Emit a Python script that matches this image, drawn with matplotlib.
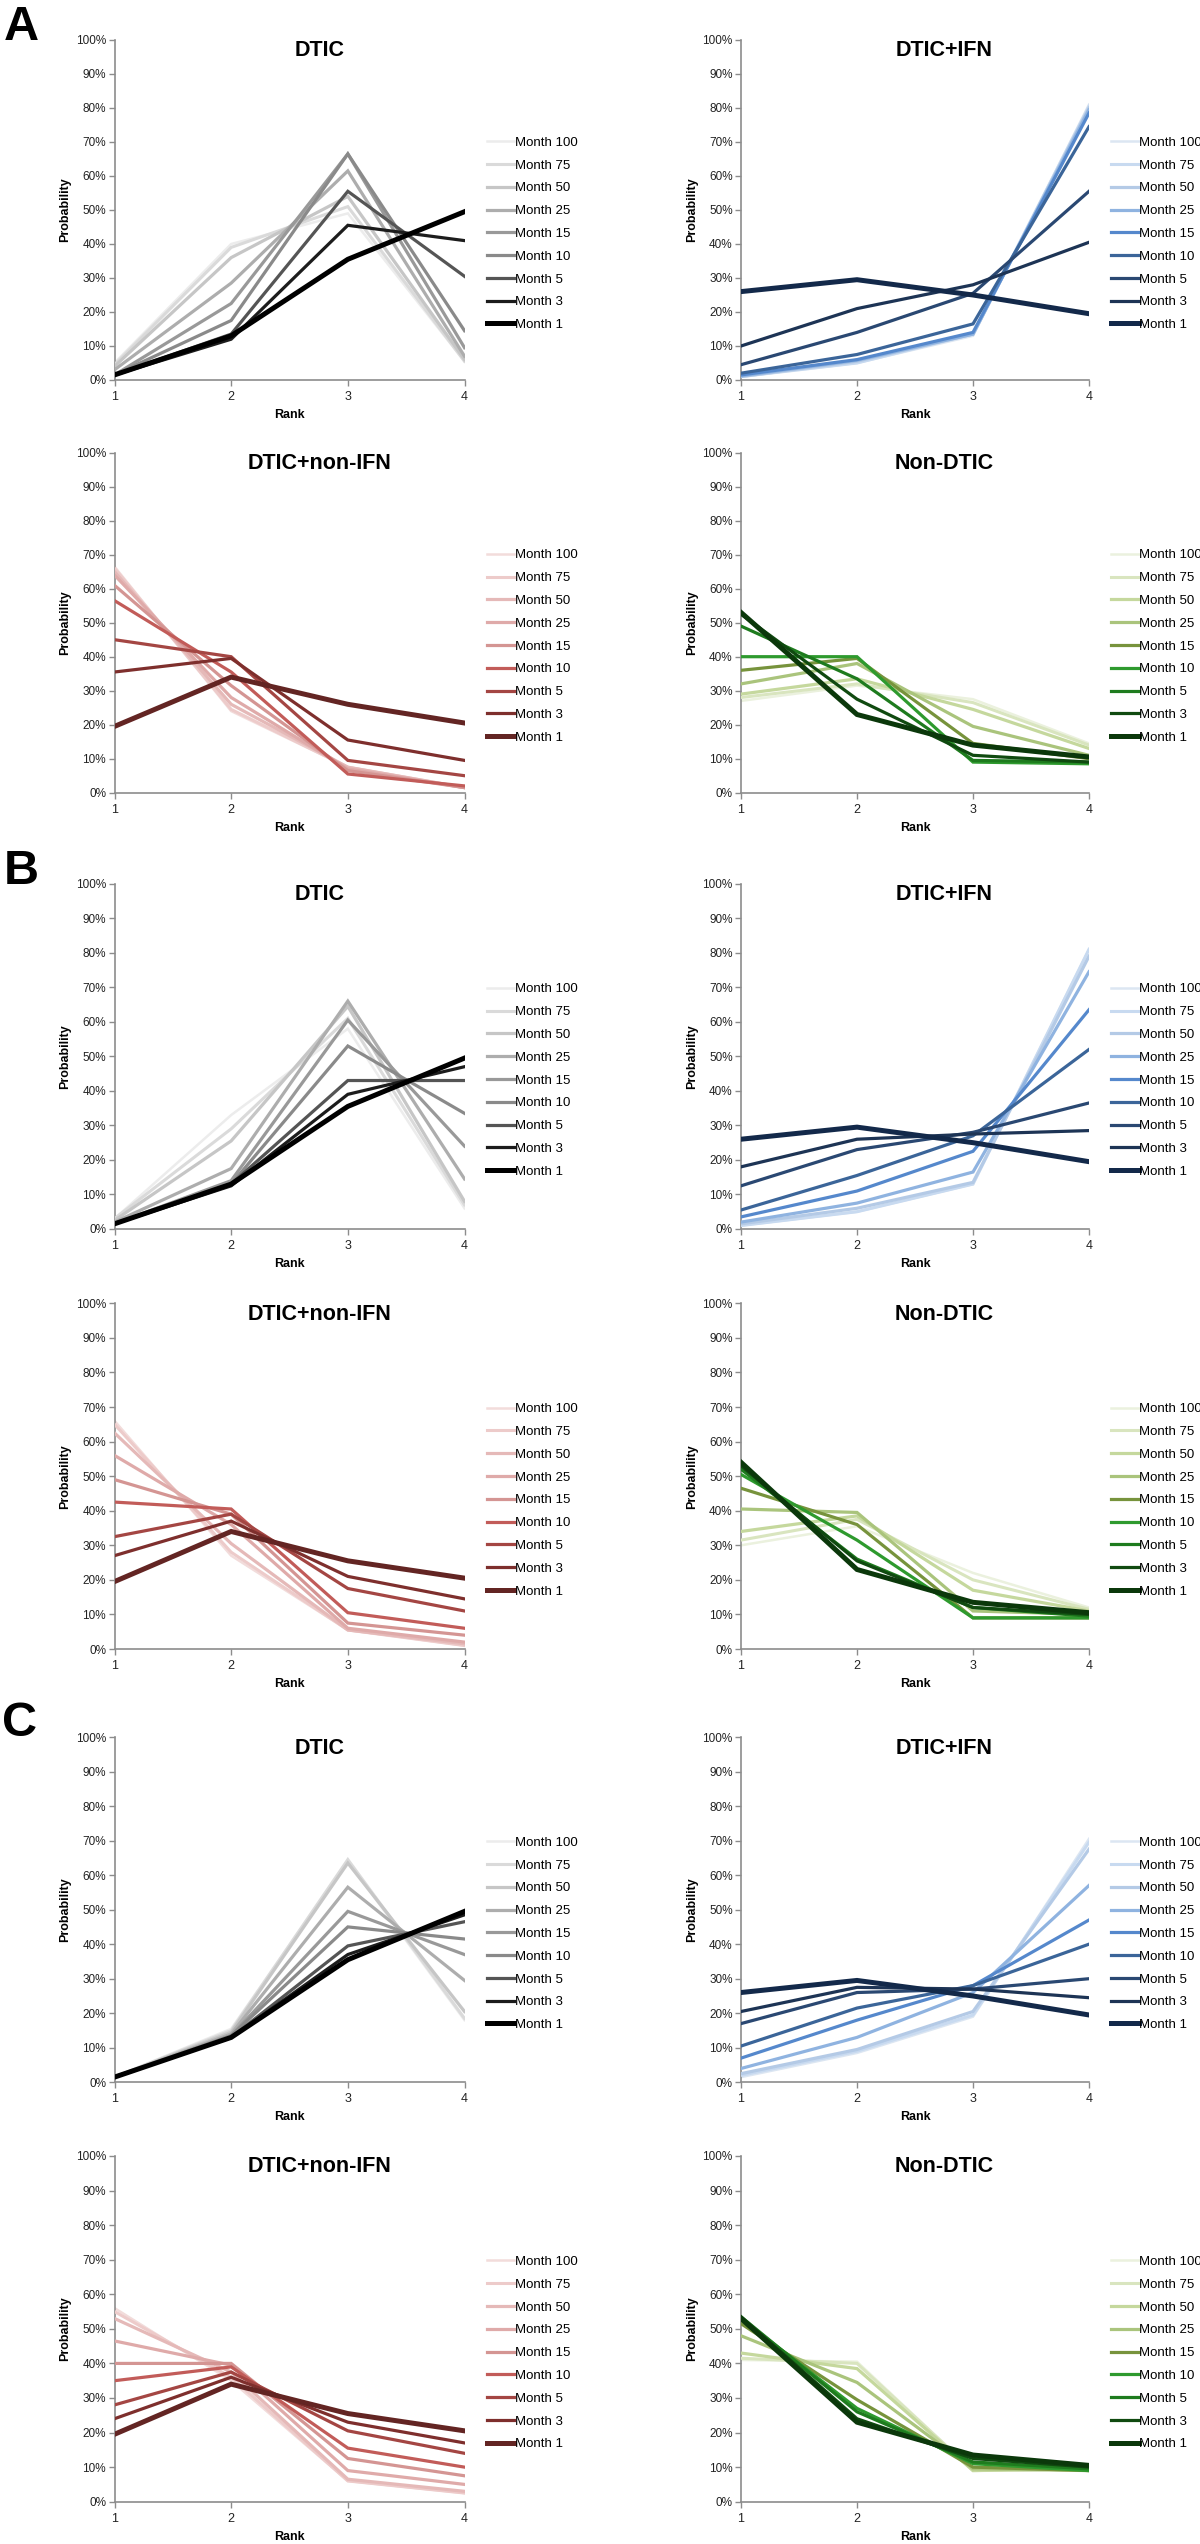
import matplotlib
matplotlib.use("Agg")
import matplotlib.pyplot as plt
from matplotlib.ticker import FixedLocator, FuncFormatter

plt.rcParams['font.family'] = ['Liberation Sans', 'DejaVu Sans']

# ---------------- data (probability in %, ranks 1..4) ----------------
ranks = [1, 2, 3, 4]
months = ["Month 100", "Month 75", "Month 50", "Month 25", "Month 15",
          "Month 10", "Month 5", "Month 3", "Month 1"]
titles = ["DTIC", "DTIC+IFN", "DTIC+non-IFN", "Non-DTIC"]
panel_letters = ["A", "B", "C"]

# rows follow `months` order
A_dtic = [[5, 40, 49, 5.5], [4.5, 39, 51, 5.5], [4, 36, 54, 6], [3, 28.5, 61.5, 7],
          [1.5, 22.5, 66.5, 9.5], [1.5, 17.5, 66.5, 14.5], [1.5, 13.5, 55.5, 30.5],
          [1.5, 12, 45.5, 41], [1.5, 13, 35.5, 49.5]]
A_ifn = [[1, 5, 13, 81], [1, 5, 13.5, 80.5], [1, 5.5, 13.5, 80], [1.2, 5.8, 13.5, 79.5],
         [1.5, 6, 14, 78.5], [2, 7.5, 16.5, 74.5], [4.5, 14, 25.5, 55.5],
         [10, 21, 28, 40.5], [26, 29.5, 25, 19.5]]
A_nonifn = [[66.5, 24, 7.5, 1.5], [66, 24.5, 7.5, 1.5], [65, 26, 7.5, 1.5], [64, 28, 7, 1.5],
            [61, 31.5, 6.5, 1.5], [56.5, 35.5, 5.5, 2], [45, 40, 9.5, 5],
            [35.5, 39.5, 15.5, 9.5], [19.5, 34, 26, 20.5]]
A_nondtic = [[27, 31.5, 27.5, 14.5], [28, 32, 26.5, 14], [29, 33.5, 24.5, 13], [32, 38, 19.5, 11],
             [36, 39.5, 14.5, 10], [40, 40, 9, 8.5], [49, 33.5, 9.5, 9],
             [52.5, 27.5, 11, 9], [53, 23, 14, 10.5]]

B_dtic = [[3, 33, 58, 6], [3, 29, 61, 7], [2.5, 25.5, 64.5, 8], [2, 17.5, 66, 14.5],
          [1.5, 14, 60.5, 24], [1.5, 13, 53, 33.5], [1.5, 13, 43, 43],
          [1.5, 12.5, 39, 47], [1.5, 13, 35.5, 49.5]]
B_ifn = [[1, 5, 13, 81], [1, 5, 13, 81], [1.5, 6, 13.5, 79], [2, 7.5, 16.5, 74.5],
         [3.5, 11, 22.5, 63.5], [5.5, 15.5, 27, 52], [12.5, 23, 28, 36.5],
         [18, 26, 27.5, 28.5], [26, 29.5, 25, 19.5]]
B_nonifn = [[66, 27, 5.5, 1], [65, 28, 5.5, 1], [62.5, 30.5, 5.5, 1.5], [56, 36, 6, 2],
            [49, 39, 7.5, 4], [42.5, 40.5, 10.5, 6], [32.5, 39, 17.5, 11],
            [27, 37, 21, 14.5], [19.5, 34, 25.5, 20.5]]
B_nondtic = [[30, 35.5, 22, 12], [31.5, 37.5, 20, 11.5], [34, 38.5, 17, 11], [40.5, 39.5, 11, 10],
             [46.5, 36, 9, 9], [50.5, 31.5, 9, 9], [52, 26, 12, 9.5],
             [53, 25.5, 12, 10], [54, 23, 13.5, 10.5]]

C_dtic = [[1.5, 15.5, 64, 18], [1.5, 15, 64.5, 18.5], [1.5, 14.5, 63.5, 20.5], [1.5, 14, 56.5, 29.5],
          [1.5, 13.5, 49.5, 37], [1.5, 13.5, 45, 41.5], [1.5, 13, 39.5, 46.5],
          [1.5, 13, 37, 48.5], [1.5, 13, 35.5, 49.5]]
C_ifn = [[1.5, 8.5, 19, 70.5], [2, 9, 19.5, 69.5], [2.5, 9.5, 20.5, 67.5], [4, 13, 26, 57],
         [7, 18, 28, 47], [10.5, 21.5, 28, 40], [17, 26, 27, 30],
         [20.5, 27.5, 27, 24.5], [26, 29.5, 25, 19.5]]
C_nonifn = [[56, 35, 6, 2.5], [55, 36, 6, 2.5], [53, 37.5, 6.5, 3], [46.5, 39.5, 9, 5],
            [40, 40, 12.5, 7.5], [35, 39, 15.5, 10], [28, 37.5, 20.5, 14],
            [24, 36, 23, 17], [19.5, 34, 25.5, 20.5]]
C_nondtic = [[41, 40.5, 9, 9.5], [41.5, 40, 9, 9.5], [43, 38.5, 9, 9.5], [48, 34.5, 9.5, 9],
             [51.5, 29.5, 10, 9], [53, 27, 11, 9], [53.5, 26, 11.5, 9.5],
             [53.5, 24, 12.5, 10], [53, 23, 13.5, 10.5]]

# ---------------- styles ----------------
grays = ["#ececec", "#dadada", "#c6c6c6", "#adadad", "#999999", "#8a8a8a", "#555555", "#1c1c1c", "#000000"]
blues = ["#dce6f2", "#c8daf0", "#b4cae6", "#8fb3e0", "#5588cc", "#3b6599", "#2a4872", "#1d3455", "#13294a"]
reds = ["#f2dcdb", "#edcbca", "#e5b9b8", "#dfaaa9", "#d49593", "#c25c59", "#a44643", "#7e2f2d", "#632523"]
greens = ["#ebf1de", "#d9e5bf", "#c5d89d", "#aac47c", "#77933c", "#2e9a2e", "#1e7b1e", "#104a10", "#0b380b"]
palettes = [grays, blues, reds, greens]
lws = [1.8, 2.2, 2.3, 2.3, 2.3, 2.3, 2.3, 2.3, 3.6]

W, H = 1200, 2544
fig = plt.figure(figsize=(W / 100, H / 100), dpi=100)

rows_px = [(40, 380), (452.7, 792.7), (883.7, 1229), (1303.3, 1649), (1737, 2082.3), (2156, 2501.7)]
cols_px = [(114.5, 464.5), (741, 1089)]

datasets = [[A_dtic, A_ifn, A_nonifn, A_nondtic],
            [B_dtic, B_ifn, B_nonifn, B_nondtic],
            [C_dtic, C_ifn, C_nonifn, C_nondtic]]

spine_col = "#8c8c8c"
pct = FuncFormatter(lambda v, p: "%d%%" % round(v))

for g in range(3):
    for k in range(4):
        r = g * 2 + k // 2
        c = k % 2
        ytop, ybot = rows_px[r]
        x0, x1 = cols_px[c]
        wp, hp = x1 - x0, ybot - ytop
        ax = fig.add_axes([x0 / W, 1 - ybot / H, wp / W, hp / H])
        data = datasets[g][k]
        pal = palettes[k]
        for i, m in enumerate(months):
            ax.plot(ranks, data[i], color=pal[i], lw=lws[i], label=m,
                    solid_joinstyle='miter', zorder=2 + i)
        ax.set_xlim(1, 4)
        ax.set_ylim(0, 100)
        ax.xaxis.set_major_locator(FixedLocator(ranks))
        ax.yaxis.set_major_locator(FixedLocator(range(0, 101, 10)))
        ax.yaxis.set_major_formatter(pct)
        for s in ["top", "right"]:
            ax.spines[s].set_visible(False)
        for s in ["left", "bottom"]:
            ax.spines[s].set_color(spine_col)
            ax.spines[s].set_linewidth(1.2)
        ax.tick_params(axis='both', direction='out', length=4, width=1.0, color=spine_col,
                       labelsize=8.5, labelcolor="#222222")
        ax.tick_params(axis='x', pad=4, labelsize=9)
        ax.tick_params(axis='y', pad=2)
        ax.set_title(titles[k], x=0.585, y=1 - 11 / hp, va='center', pad=0,
                     fontsize=15.5, fontweight='bold')
        ax.set_xlabel("Rank", fontsize=9, fontweight='bold')
        ax.xaxis.set_label_coords(0.5, -35 / hp)
        ax.xaxis.label.set_va('center')
        ax.set_ylabel("Probability", fontsize=9, fontweight='bold')
        ax.yaxis.set_label_coords(-49 / wp, 0.5)
        ax.yaxis.label.set_va('center')
        ax.legend(loc='center left', bbox_to_anchor=(1 + 22 / wp, 0.43), frameon=False,
                  fontsize=9.5, handlelength=2.1, handletextpad=0.05, labelspacing=0.8,
                  borderpad=0, borderaxespad=0)

letter_pos = [(21, 28), (21, 872), (19, 1724)]
for L, (px, py) in zip(panel_letters, letter_pos):
    fig.text(px / W, 1 - py / H, L, ha='center', va='center', fontsize=35, fontweight='bold')

fig.savefig("out.png", dpi=100, facecolor='white')
